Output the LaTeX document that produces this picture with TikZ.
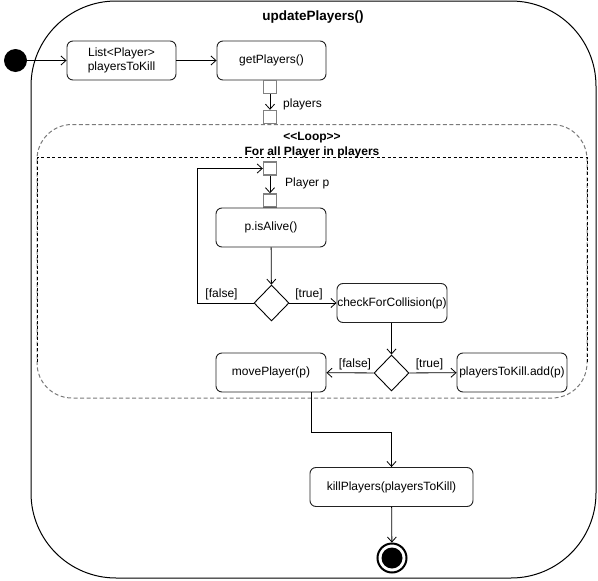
\documentclass[tikz,border=0pt]{standalone}
\usepackage{fontspec}
\setmainfont{Liberation Sans}
\usetikzlibrary{arrows.meta,shapes.geometric}
\definecolor{boxline}{HTML}{222222}
\definecolor{pinline}{HTML}{808080}
\definecolor{loopgray}{HTML}{7A7A7A}
\begin{document}
\begin{tikzpicture}[x=1pt,y=-1pt,
  every node/.style={font=\fontsize{12}{14}\selectfont, inner sep=0pt},
  act/.style={draw=boxline, line width=0.9pt, rounded corners=6pt, minimum width=110pt, minimum height=39pt, align=center},
  pinbox/.style={draw=pinline, line width=1.4pt, minimum size=13pt, fill=white},
  dec/.style={draw=black, diamond, line width=0.9pt, minimum width=35pt, minimum height=36pt},
  flow/.style={-{Straight Barb[length=5pt,width=9pt]}, line width=0.8pt},
  lbl/.style={font=\fontsize{12}{14}\selectfont},
  hdr/.style={font=\bfseries\fontsize{12}{14}\selectfont}
]
\useasboundingbox (0,0) rectangle (598,581);

% outer activity frame
\draw[line width=1pt, rounded corners=85pt] (31,1) rectangle (596,578);
\node[font=\bfseries\fontsize{13.5}{16}\selectfont] (title) at (313,17) {updatePlayers()};

% loop region
\draw[loopgray, dash pattern=on 4pt off 2.5pt, line width=1pt, rounded corners=35pt] (37,124.5) rectangle (587,398);
\draw[black, dash pattern=on 3pt off 2.5pt, line width=0.8pt] (37,362) -- (37,157) -- (587,157) -- (587,362);
\node[hdr] (loophead) at (312,138) {<{}<Loop>{}>};
\node[hdr] (loopcond) at (312,152) {For all Player in players};

% nodes
\node[circle, fill=black, minimum size=23pt] (init) at (15.5,60.5) {};
\node[act, minimum width=109pt] (list) at (121.5,60.5) {List<Player>\\playersToKill};
\node[act, minimum width=109pt] (getp) at (271.5,60.5) {getPlayers()};
\node[pinbox] (p1) at (270,87) {};
\node[pinbox] (p2) at (270,117) {};
\node[lbl, anchor=west] (lplayers) at (283,104) {players};

\node[pinbox] (p3) at (270,168.5) {};
\node[pinbox] (p4) at (270,200.5) {};
\node[lbl, anchor=west] (lplayerp) at (285,183) {Player p};
\node[act] (alive) at (271,227.5) {p.isAlive()};
\node[dec] (dec1) at (271.5,303) {};
\node[act] (chk) at (392,303) {checkForCollision(p)};
\node[dec] (dec2) at (391.5,373) {};
\node[act] (move) at (271,372.5) {movePlayer(p)};
\node[act] (add) at (512,372.5) {playersToKill.add(p)};
\node[act, minimum width=163pt] (kill) at (391.5,487) {killPlayers(playersToKill)};
\node[circle, draw=black, line width=2pt, minimum size=29pt] (fin) at (392,558) {};
\node[circle, fill=black, minimum size=21pt] (fincore) at (fin) {};

\coordinate (loopback) at (197,303);

% flows
\draw[flow] (init) -- (list);
\draw[flow] (list) -- (getp);
\draw[flow] (p1) -- (p2);
\draw[flow] (p3) -- (p4);
\draw[flow] (alive) -- (dec1);
\draw[flow] (dec1.west) -- (loopback) |- (p3.west);
\draw[flow] (dec1) -- (chk);
\draw[flow] (chk.south -| dec2) -- (dec2);
\draw[flow] (dec2) -- (move);
\draw[flow] (dec2) -- (add);
\draw[flow] ([xshift=40pt]move.south) -- ++(0,40) -| (kill.north);
\draw[flow] (kill) -- (fin);

% guard labels
\node[lbl] (f1) at (221.5,294) {[false]};
\node[lbl] (t1) at (309,294) {[true]};
\node[lbl] (f2) at (355,364) {[false]};
\node[lbl] (t2) at (429.5,364) {[true]};
\end{tikzpicture}
\end{document}
